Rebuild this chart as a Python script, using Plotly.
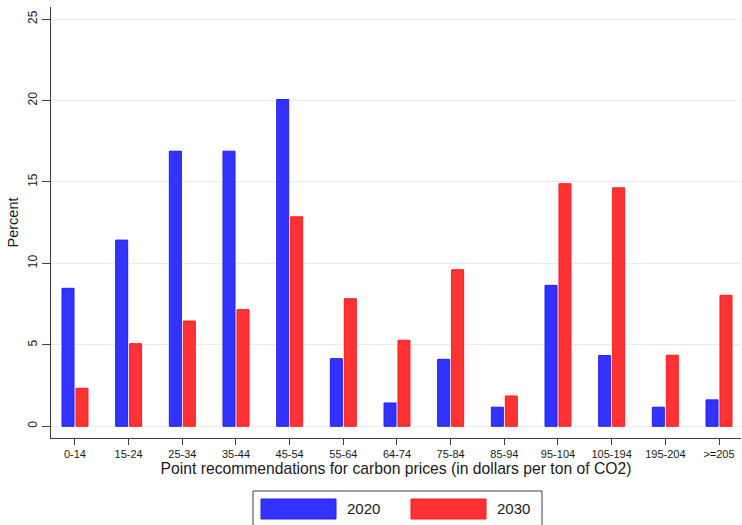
import plotly.graph_objects as go

categories = ["0-14", "15-24", "25-34", "35-44", "45-54", "55-64", "64-74",
              "75-84", "85-94", "95-104", "105-194", "195-204", ">=205"]
values_2020 = [8.47, 11.43, 16.89, 16.89, 20.06, 4.15, 1.43, 4.11, 1.17, 8.65, 4.34, 1.17, 1.62]
values_2030 = [2.33, 5.07, 6.46, 7.16, 12.86, 7.83, 5.28, 9.61, 1.86, 14.89, 14.64, 4.36, 8.04]
series_names = ["2020", "2030"]
y_ticks = [0, 5, 10, 15, 20, 25]

W, H = 742, 525
L, R, T, B = 51, 1, 7, 87
pw, ph = W - L - R, H - T - B

def px_x(p):
    return (p - L) / pw

def px_y(p):
    return (H - B - p) / ph

BLUE = "#3333ff"
BLUE_EDGE = "#1f1fff"
RED = "#ff3333"
RED_EDGE = "#ff1a1a"
FONT = "Liberation Sans, Arial, sans-serif"
TXT = "#1a1a1a"

fig = go.Figure()
fig.add_trace(go.Bar(x=categories, y=values_2020, name=series_names[0],
                     marker=dict(color=BLUE, line=dict(color=BLUE_EDGE, width=1))))
fig.add_trace(go.Bar(x=categories, y=values_2030, name=series_names[1],
                     marker=dict(color=RED, line=dict(color=RED_EDGE, width=1))))

# custom legend (wide swatches as in the original)
shapes = [
    dict(type="rect", xref="paper", yref="paper",
         x0=px_x(253), x1=px_x(542), y0=px_y(528), y1=px_y(491),
         line=dict(color="#404040", width=1), fillcolor="white", layer="above"),
    dict(type="rect", xref="paper", yref="paper",
         x0=px_x(261), x1=px_x(336), y0=px_y(519), y1=px_y(499),
         line=dict(color=BLUE_EDGE, width=1), fillcolor=BLUE, layer="above"),
    dict(type="rect", xref="paper", yref="paper",
         x0=px_x(411), x1=px_x(486), y0=px_y(519), y1=px_y(499),
         line=dict(color=RED_EDGE, width=1), fillcolor=RED, layer="above"),
]
annotations = [
    dict(text=series_names[0], xref="paper", yref="paper", x=px_x(345), y=px_y(509),
         xanchor="left", yanchor="middle", showarrow=False,
         font=dict(family=FONT, size=15, color=TXT)),
    dict(text=series_names[1], xref="paper", yref="paper", x=px_x(495), y=px_y(509),
         xanchor="left", yanchor="middle", showarrow=False,
         font=dict(family=FONT, size=15, color=TXT)),
]

fig.update_layout(
    width=W, height=H,
    margin=dict(l=L, r=R, t=T, b=B, pad=0, autoexpand=False),
    paper_bgcolor="white", plot_bgcolor="white",
    barmode="group", bargap=0.48, bargroupgap=0.14,
    showlegend=False,
    font=dict(family=FONT, size=11, color=TXT),
    shapes=shapes, annotations=annotations,
    xaxis=dict(
        type="category", range=[-0.447, 12.41],
        showline=True, linecolor="#404040", linewidth=1,
        ticks="outside", ticklen=6, tickcolor="#404040", tickwidth=1,
        showgrid=False, zeroline=False, automargin=False,
        tickfont=dict(family=FONT, size=11, color=TXT),
        title=dict(text="Point recommendations for carbon prices (in dollars per ton of CO2)",
                   font=dict(family=FONT, size=15.7, color=TXT), standoff=1),
    ),
    yaxis=dict(
        range=[-0.72, 25.74],
        tickvals=y_ticks, ticktext=[str(v) for v in y_ticks],
        tickangle=-90,
        showline=True, linecolor="#404040", linewidth=1,
        ticks="outside", ticklen=8, tickcolor="#404040", tickwidth=1,
        showgrid=True, gridcolor="#e6eef0", gridwidth=1,
        zeroline=False, automargin=False,
        tickfont=dict(family=FONT, size=12, color=TXT),
        title=dict(text="Percent", font=dict(family=FONT, size=14.5, color=TXT), standoff=4),
    ),
)

fig.write_html("out.html", config={"displayModeBar": False},
               post_script="document.body.style.margin='0';")
